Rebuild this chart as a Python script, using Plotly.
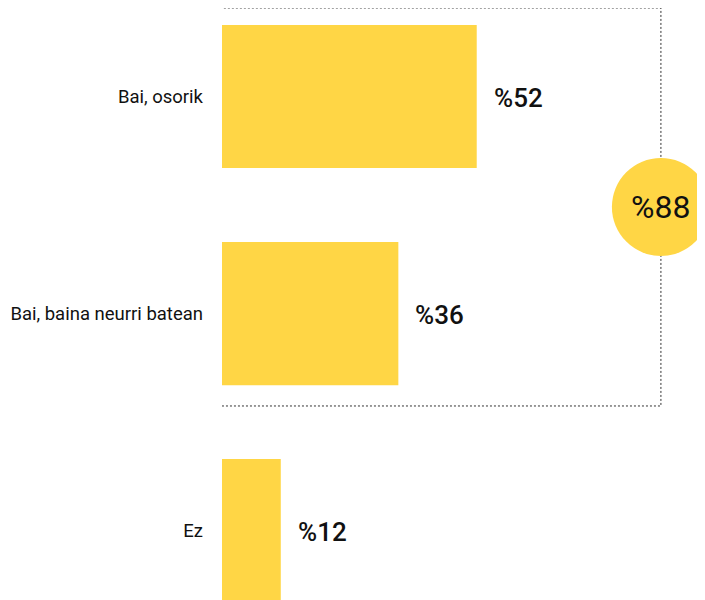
import plotly.graph_objects as go

categories = ['Bai, osorik', 'Bai, baina neurri batean', 'Ez']
values = [52, 36, 12]
grouped = [0, 1]  # categories inside the dotted box

BAR_COLOR = '#FFD645'
FONT = 'Roboto, sans-serif'

fig = go.Figure()
fig.add_trace(go.Bar(
    y=categories, x=values, orientation='h',
    marker=dict(color=BAR_COLOR, line=dict(width=0)),
    hoverinfo='skip',
))

# value labels next to bars
for cat, val in zip(categories, values):
    fig.add_annotation(
        x=val, y=cat, text='%' + str(val), showarrow=False,
        xanchor='left', xshift=15, yshift=-1,
        font=dict(family=FONT, size=26, weight=500, color='#111111'),
    )

# dotted box around first two answers, with total in a circle
total = sum(values[i] for i in grouped)
box_right = 89.6
fig.add_shape(
    type='rect', xref='x', yref='y',
    x0=-1.25, x1=box_right, y0=-0.408, y1=1.426,
    line=dict(color='#333333', width=1, dash='2px,2px'),
)
fig.add_shape(
    type='circle', xref='x', yref='y',
    xsizemode='pixel', ysizemode='pixel',
    xanchor=box_right, yanchor=0.509,
    x0=-49, x1=49, y0=-49, y1=49,
    fillcolor=BAR_COLOR, line=dict(width=0),
)
fig.add_annotation(
    x=box_right, y=0.509, text='%' + str(total), showarrow=False,
    xanchor='center', yanchor='middle',
    font=dict(family=FONT, size=32, color='#111111'),
)

# page body adds an 8px margin, so the figure is 8px smaller and offset
fig.update_layout(
    width=697, height=592,
    margin=dict(l=214, r=0, t=0, b=0),
    paper_bgcolor='white', plot_bgcolor='white',
    showlegend=False,
    bargap=0.34,
    font=dict(family=FONT, size=18, color='#111111'),
    xaxis=dict(range=[0, 98.6], visible=False, fixedrange=True),
    yaxis=dict(
        type='category', range=[2.32, -0.4078],
        showgrid=False, zeroline=False, showline=False, ticks='',
        ticklabelstandoff=18, fixedrange=True,
        tickfont=dict(family=FONT, size=18.5, color='#111111'),
    ),
)

fig.write_html('out.html', config={'displayModeBar': False})
